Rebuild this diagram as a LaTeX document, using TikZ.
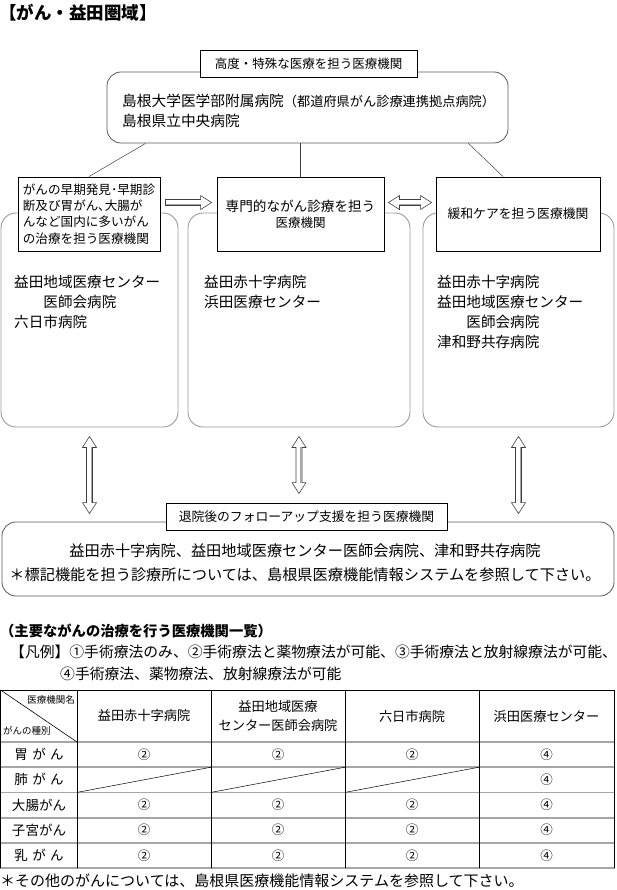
\documentclass[tikz,border=0pt]{standalone}
\usepackage{fontspec}
\setmainfont{Noto Sans CJK JP}
\usetikzlibrary{calc}
\newcommand\jfs[2]{\fontsize{#1}{#2}\selectfont}
\tikzset{
  lbl/.style={draw=black, line width=0.9pt, fill=white, inner sep=0pt, align=center},
  bigbox/.style={draw=black!65, line width=0.8pt, rounded corners=14pt, inner sep=0pt},
  grpbox/.style={draw=black!40, line width=0.9pt, rounded corners=15pt, inner sep=0pt},
  txt/.style={inner sep=0pt, align=left, anchor=west},
  link/.style={draw=black!75, line width=0.5pt},
  harrow/.style={draw=black!75, line width=0.6pt, fill=white},
  hshade/.style={draw=black!35, line width=1.6pt},
  tline/.style={draw=black, line width=0.6pt},
  gline/.style={draw=black!35, line width=1.8pt},
  cell/.style={inner sep=0pt, align=center, font=\jfs{13.2}{19}},
  val/.style={inner sep=0pt, font=\jfs{12.5}{14}},
  rowl/.style={inner sep=0pt, font=\jfs{13.5}{15}},
}
% single right hollow arrow
\newcommand\arrowR[2]{%
  \draw[harrow] let \p1=(#1), \p2=(#2) in
    (\x1,\y1+3pt) -- (\x2-11pt,\y1+3pt) -- (\x2-11pt,\y1+7pt) -- (\x2,\y1)
    -- (\x2-11pt,\y1-7pt) -- (\x2-11pt,\y1-3pt) -- (\x1,\y1-3pt) -- cycle;
  \draw[hshade] let \p1=(#1), \p2=(#2) in (\x1+1pt,\y1-2pt) -- (\x2-11pt,\y1-2pt);}
% double horizontal hollow arrow
\newcommand\arrowLR[2]{%
  \draw[harrow] let \p1=(#1), \p2=(#2) in
    (\x1,\y1) -- (\x1+11pt,\y1+7pt) -- (\x1+11pt,\y1+3pt) -- (\x2-11pt,\y1+3pt)
    -- (\x2-11pt,\y1+7pt) -- (\x2,\y1) -- (\x2-11pt,\y1-7pt) -- (\x2-11pt,\y1-3pt)
    -- (\x1+11pt,\y1-3pt) -- (\x1+11pt,\y1-7pt) -- cycle;
  \draw[hshade] let \p1=(#1), \p2=(#2) in (\x1+11pt,\y1-2pt) -- (\x2-11pt,\y1-2pt);}
% double vertical hollow arrow (#1 top, #2 bottom)
\newcommand\arrowUD[2]{%
  \draw[harrow] let \p1=(#1), \p2=(#2) in
    (\x1,\y1) -- (\x1+7pt,\y1-11pt) -- (\x1+3pt,\y1-11pt) -- (\x1+3pt,\y2+11pt)
    -- (\x1+7pt,\y2+11pt) -- (\x1,\y2) -- (\x1-7pt,\y2+11pt) -- (\x1-3pt,\y2+11pt)
    -- (\x1-3pt,\y1-11pt) -- (\x1-7pt,\y1-11pt) -- cycle;
  \draw[hshade] let \p1=(#1), \p2=(#2) in (\x1+2pt,\y1-11pt) -- (\x1+2pt,\y2+11pt);}
\begin{document}
\begin{tikzpicture}[x=1pt,y=-1pt]
\useasboundingbox (0,0) rectangle (616,890);

% title
\node[txt, font=\bfseries\jfs{17.5}{19}] (title) at (-1,13) {【がん・益田圏域】};

% group boxes
\node[grpbox, minimum width=177pt, minimum height=214pt] (d1) at (89.5,320) {};
\node[grpbox, minimum width=222pt, minimum height=214pt] (d2) at (299,320) {};
\node[grpbox, minimum width=191pt, minimum height=214pt] (d3) at (518.5,320) {};

% top box
\node[bigbox, minimum width=401pt, minimum height=71pt] (b) at (307.5,107.5) {};
\node[lbl, minimum width=217pt, minimum height=27pt, font=\jfs{12.5}{14}] (a) at (308.5,63.5) {高度・特殊な医療を担う医療機関};
\node[txt, font=\jfs{14.7}{20}] (btext) at (122,111) {島根大学医学部附属病院{\jfs{13.2}{20}（都道府県がん診療連携拠点病院）}\\島根県立中央病院};

% function boxes
\node[lbl, minimum width=142pt, minimum height=74pt, align=left, font=\jfs{12.6}{16.3}] (c1) at (89,214) {がんの早期発見･早期診\\断及び胃がん､大腸が\\んなど国内に多いがん\\の治療を担う医療機関};
\node[lbl, minimum width=167pt, minimum height=74pt, font=\jfs{13.6}{16}] (c2) at (300.5,214) {専門的ながん診療を担う\\{\jfs{12.5}{16}医療機関}};
\node[lbl, minimum width=164pt, minimum height=74pt, font=\jfs{12.8}{16}] (c3) at (518,214) {緩和ケアを担う医療機関};

% links
\draw[link] ($(b.south west)+(39,0)$) -- (c1.north);
\draw[link] (c2.north |- b.south) -- (c2.north);
\draw[link] ($(b.south east)+(-40,0)$) -- ($(c3.north)+(-15,0)$);

% group texts
\node[txt, font=\jfs{14.6}{20}] (d1t) at (14,302) {益田地域医療センター\\\hspace*{2em}医師会病院\\六日市病院};
\node[txt, font=\jfs{14.6}{20}] (d2t) at (204,292) {益田赤十字病院\\浜田医療センター};
\node[txt, font=\jfs{14.6}{20}] (d3t) at (437,312) {益田赤十字病院\\益田地域医療センター\\\hspace*{2em}医師会病院\\津和野共存病院};

% horizontal arrows
\arrowR{$(c1.north east)+(5,26)$}{$(c2.north west)+(-5,26)$}
\arrowLR{$(c2.north east)+(4,26)$}{$(c3.north west)+(-4,26)$}

% follow-up box
\node[bigbox, minimum width=612pt, minimum height=74pt] (f) at (308,559) {};
\node[lbl, minimum width=281pt, minimum height=27pt, font=\jfs{12.8}{14}] (e) at (306.5,516.5) {退院後のフォローアップ支援を担う医療機関};
\node[inner sep=0pt, align=center, font=\jfs{15.2}{24}] (ft) at (305,563) {益田赤十字病院、益田地域医療センター医師会病院、津和野共存病院\\＊標記機能を担う診療所については、島根県医療機能情報システムを参照して下さい。};

% vertical arrows
\coordinate (fl) at (f.north -| d1.south);
\coordinate (em) at (e.north -| d2.south);
\coordinate (fr) at (f.north -| d3.south);
\arrowUD{$(d1.south)+(0,9)$}{$(fl)+(0,-8)$}
\arrowUD{$(d2.south)+(0,9)$}{$(em)+(0,-9)$}
\arrowUD{$(d3.south)+(0,9)$}{$(fr)+(0,-8)$}

% section heading and legend
\node[txt, font=\bfseries\jfs{14.3}{16}] (sec) at (0,631) {（主要ながんの治療を行う医療機関一覧）};
\node[txt, font=\jfs{14.8}{22}] (leg1) at (10,652) {【凡例】①手術療法のみ、②手術療法と薬物療法が可能、③手術療法と放射線療法が可能、};
\node[txt, font=\jfs{14.8}{22}] (leg2) at (60,674) {④手術療法、薬物療法、放射線療法が可能};

% table
\foreach \yy in {742,767.2,792.4,817.6,842.8,868} \draw[gline] (0,\yy) -- (615,\yy);
\foreach \xx in {0.5,77,211,345,479,614.5} \draw[tline] (\xx,690) -- (\xx,868);
\draw[tline] (0,690) -- (615,690);
\draw[tline] (0.5,690) -- (77,742);
\node[inner sep=0pt, anchor=east, font=\jfs{9.5}{10}] (h1) at (75,700) {医療機関名};
\node[inner sep=0pt, anchor=west, font=\jfs{9.5}{10}] (h2) at (3,731) {がんの種別};
\node[cell] (c1h) at (144,716) {益田赤十字病院};
\node[cell] (c2h) at (278,716) {益田地域医療\\センター医師会病院};
\node[cell] (c3h) at (412,716) {六日市病院};
\node[cell] (c4h) at (546.5,716) {浜田医療センター};
\node[rowl] (r1) at (39,754.6) {胃\hspace{0.33em}が\hspace{0.33em}ん};
\node[rowl] (r2) at (39,779.8) {肺\hspace{0.33em}が\hspace{0.33em}ん};
\node[rowl] (r3) at (39,805) {大腸がん};
\node[rowl] (r4) at (39,830.2) {子宮がん};
\node[rowl] (r5) at (39,855.4) {乳\hspace{0.33em}が\hspace{0.33em}ん};
\foreach \yy in {754.6,805,830.2,855.4} {
  \node[val] at (144,\yy) {②};
  \node[val] at (278,\yy) {②};
  \node[val] at (412,\yy) {②};
  \node[val] at (546.5,\yy) {④};
}
\node[val] at (546.5,779.8) {④};
\draw[tline, line width=0.5pt] (77,792.4) -- (211,767.2);
\draw[tline, line width=0.5pt] (211,792.4) -- (345,767.2);
\draw[tline, line width=0.5pt] (345,792.4) -- (479,767.2);

\node[txt, font=\jfs{15}{16}] (foot) at (0,881) {＊その他のがんについては、島根県医療機能情報システムを参照して下さい。};
\end{tikzpicture}
\end{document}
